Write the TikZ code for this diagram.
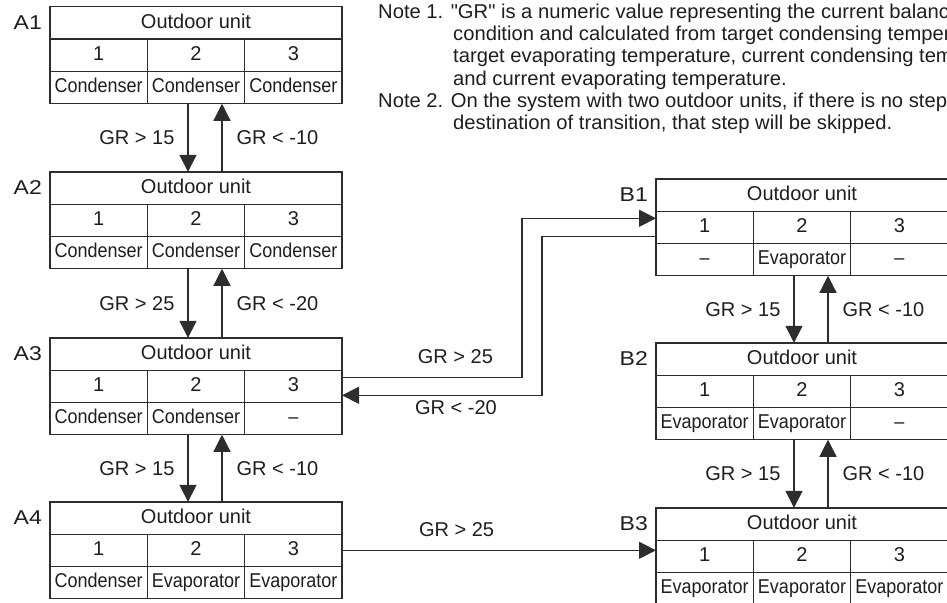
\documentclass[tikz,border=0pt]{standalone}
\usepackage{fontspec}
\setmainfont{Liberation Sans}
\newfontfamily\cellfont[FakeStretch=0.9]{Liberation Sans}
\newfontfamily\notefont[FakeStretch=1.01]{Liberation Sans}
\newfontfamily\tagfont[FakeStretch=1.15]{Liberation Sans}
\usepackage{tikz}
\usetikzlibrary{positioning,arrows.meta}
\definecolor{linegray}{RGB}{45,45,45}
\definecolor{textgray}{RGB}{30,30,30}
\tikzstyle{unittitle} = [rectangle, draw=linegray, line width=1.3pt, minimum width=292pt, minimum height=32.3pt, inner sep=0pt, outer sep=0pt, text height=14.5pt, text depth=4pt, text=textgray, font=\fontsize{20}{24}\selectfont]
\tikzstyle{unitcell} = [unittitle, minimum width=97.33pt]
\tikzstyle{unittag} = [inner sep=0pt, text=textgray, font=\fontsize{20}{24}\selectfont\tagfont]
\tikzstyle{cond} = [inner sep=0pt, text=textgray, font=\fontsize{20}{24}\selectfont]
\tikzstyle{note} = [anchor=base west, inner sep=0pt, text=textgray, font=\fontsize{20}{24}\selectfont\notefont]
\tikzstyle{arrow} = [line width=1.2pt, draw=linegray, -{Triangle[length=17pt,width=17pt]}]

% one outdoor unit: name, centre of title row, tag, three modes
\newcommand{\outdoorunit}[6]{%
  \node (#1) [unittitle] at (#2) {Outdoor unit};
  \node (#1-n2) [unitcell, below=0pt of #1] {2};
  \node (#1-n1) [unitcell, left=0pt of #1-n2] {1};
  \node (#1-n3) [unitcell, right=0pt of #1-n2] {3};
  \node (#1-m1) [unitcell, below=0pt of #1-n1] {\cellfont #4};
  \node (#1-m2) [unitcell, below=0pt of #1-n2] {\cellfont #5};
  \node (#1-m3) [unitcell, below=0pt of #1-n3] {\cellfont #6};
  \node (#1-tag) [unittag, left=8pt of #1] {#3};
}

\begin{document}
\begin{tikzpicture}[x=1pt, y=-1pt]
\useasboundingbox (0,0) rectangle (947,602);
\clip (0,0) rectangle (947,602);

% notes
\node (note1a) [note] at (378,19) {Note 1. "GR" is a numeric value representing the current balance};
\node (note1b) [note] at (453,41) {condition and calculated from target condensing temperature,};
\node (note1c) [note] at (453,63) {target evaporating temperature, current condensing temperature};
\node (note1d) [note] at (453,85) {and current evaporating temperature.};
\node (note2a) [note] at (378,107) {Note 2. On the system with two outdoor units, if there is no step};
\node (note2b) [note] at (453,129) {destination of transition, that step will be skipped.};

% steps A
\outdoorunit{a1}{196,23}{A1}{Condenser}{Condenser}{Condenser}
\outdoorunit{a2}{196,188}{A2}{Condenser}{Condenser}{Condenser}
\outdoorunit{a3}{196,354}{A3}{Condenser}{Condenser}{–}
\outdoorunit{a4}{196,518}{A4}{Condenser}{Evaporator}{Evaporator}

% steps B
\outdoorunit{b1}{802,195}{B1}{–}{Evaporator}{–}
\outdoorunit{b2}{802,359}{B2}{Evaporator}{Evaporator}{–}
\outdoorunit{b3}{802,524}{B3}{Evaporator}{Evaporator}{Evaporator}

% transitions A
\draw [arrow] ([xshift=-8pt]a1-m2.south) -- node[cond, left=13pt] (a12gr) {GR > 15} ([xshift=-8pt]a2.north);
\draw [arrow] ([xshift=26pt]a2.north) -- node[cond, right=14pt] (a21gr) {GR < -10} ([xshift=26pt]a1-m2.south);
\draw [arrow] ([xshift=-8pt]a2-m2.south) -- node[cond, left=13pt] (a23gr) {GR > 25} ([xshift=-8pt]a3.north);
\draw [arrow] ([xshift=26pt]a3.north) -- node[cond, right=14pt] (a32gr) {GR < -20} ([xshift=26pt]a2-m2.south);
\draw [arrow] ([xshift=-8pt]a3-m2.south) -- node[cond, left=13pt] (a34gr) {GR > 15} ([xshift=-8pt]a4.north);
\draw [arrow] ([xshift=26pt]a4.north) -- node[cond, right=14pt] (a43gr) {GR < -10} ([xshift=26pt]a3-m2.south);

% transitions B
\draw [arrow] ([xshift=-8pt]b1-m2.south) -- node[cond, left=13pt] (b12gr) {GR > 15} ([xshift=-8pt]b2.north);
\draw [arrow] ([xshift=26pt]b2.north) -- node[cond, right=14pt] (b21gr) {GR < -10} ([xshift=26pt]b1-m2.south);
\draw [arrow] ([xshift=-8pt]b2-m2.south) -- node[cond, left=13pt] (b23gr) {GR > 15} ([xshift=-8pt]b3.north);
\draw [arrow] ([xshift=26pt]b3.north) -- node[cond, right=14pt] (b32gr) {GR < -10} ([xshift=26pt]b2-m2.south);

% between A and B
\draw [arrow] ([yshift=9pt]a3-n3.east) -- node[cond, pos=0.63, above=13pt] (a3b1gr) {GR > 25} ++(180,0) |- ([yshift=9pt]b1-n1.west);
\draw [arrow] ([yshift=-9pt]b1-n1.west) -- ++(-114,0) |- node[cond, pos=0.715, below=5pt] (b1a3gr) {GR < -20} ([yshift=-9pt]a3-n3.east);
\draw [arrow] (a4-n3.east) -- node[cond, pos=0.365, above=13pt] (a4b3gr) {GR > 25} (a4-n3.east -| b3.west);

\end{tikzpicture}
\end{document}
